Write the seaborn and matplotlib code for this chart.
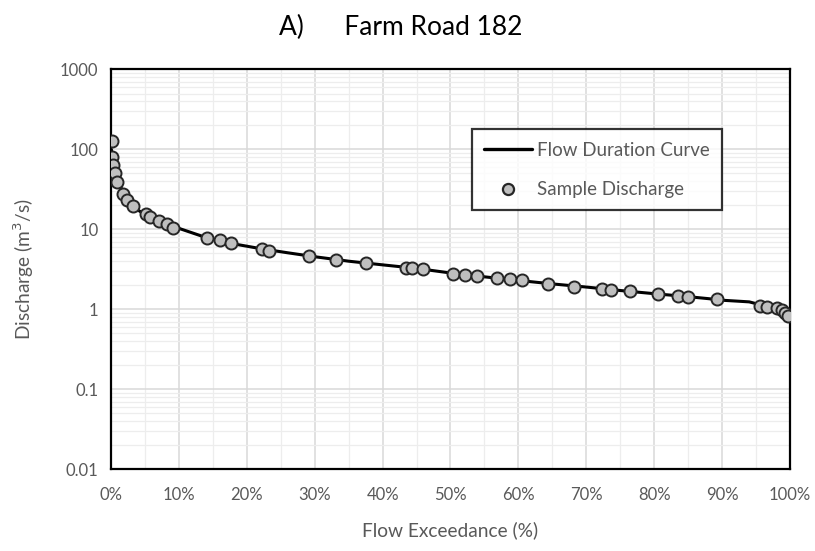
import matplotlib
matplotlib.use("Agg")
import numpy as np
import pandas as pd
import matplotlib.pyplot as plt
from matplotlib.lines import Line2D
from matplotlib.ticker import PercentFormatter, MultipleLocator, LogLocator, FuncFormatter, NullFormatter
import seaborn as sns

# flow duration curve (exceedance %, discharge m3/s)
curve_exceed = [0.05, 0.3, 0.5, 0.8, 1.2, 1.8, 2.5, 3.5, 5, 7, 10, 14, 18, 22, 26, 30, 35, 40,
                45, 50, 55, 60, 65, 70, 75, 80, 85, 88, 90, 92, 94, 96, 98, 99, 100]
curve_q = [100, 75, 60, 48, 38, 28.5, 23, 18.5, 15.3, 12.5, 10.3, 7.9, 6.6, 5.75, 5.1, 4.55, 4.0, 3.6,
           3.25, 2.85, 2.55, 2.3, 2.08, 1.9, 1.72, 1.57, 1.44, 1.36, 1.3, 1.27, 1.24, 1.12, 1.02, 0.95, 0.82]

# sample discharges
sample_exceed = [0.1, 0.1, 0.35, 0.6, 0.95, 1.8, 2.3, 3.2, 5.1, 5.8, 7.1, 8.3, 9.2, 14.1, 16.1, 17.6,
                 22.3, 23.3, 29.2, 33.2, 37.5, 43.4, 44.4, 45.9, 50.4, 52.2, 53.9, 56.8, 58.7, 60.6,
                 64.3, 68.2, 72.3, 73.6, 76.4, 80.5, 83.5, 85.0, 89.2, 95.6, 96.6, 98.1, 98.8, 99.2, 99.7]
sample_q = [128, 80.8, 63.7, 50, 39.4, 27.6, 23.3, 19.7, 15.5, 14.1, 12.7, 11.6, 10.5, 7.7, 7.35, 6.7,
            5.67, 5.4, 4.6, 4.17, 3.76, 3.31, 3.29, 3.19, 2.79, 2.71, 2.61, 2.44, 2.37, 2.30,
            2.09, 1.92, 1.81, 1.74, 1.69, 1.55, 1.48, 1.44, 1.33, 1.11, 1.06, 1.03, 0.98, 0.91, 0.82]

sns.set_style("white")
plt.rcParams['font.family'] = ['Lato', 'DejaVu Sans']

curve_df = pd.DataFrame({"exceed": curve_exceed, "q": curve_q})
sample_df = pd.DataFrame({"exceed": sample_exceed, "q": sample_q})

fig = plt.figure(figsize=(8.15, 5.51), dpi=100)
ax = fig.add_axes([0.1362, 0.1483, 0.8331, 0.7257])

sns.lineplot(ax=ax, data=curve_df, x="exceed", y="q", color="black", linewidth=2.2, zorder=3)
sns.scatterplot(ax=ax, data=sample_df, x="exceed", y="q", color="#bfbfbf", edgecolor="#262626",
                linewidth=1.4, s=75, zorder=4)

ax.set_yscale("log")
ax.set_xlim(0, 100)
ax.set_ylim(0.01, 1000)
ax.xaxis.set_major_locator(MultipleLocator(10))
ax.xaxis.set_minor_locator(MultipleLocator(5))
ax.xaxis.set_major_formatter(PercentFormatter(100, decimals=0))
ax.yaxis.set_major_locator(LogLocator(base=10))
ax.yaxis.set_minor_locator(LogLocator(base=10, subs=np.arange(2, 10)))
ax.yaxis.set_major_formatter(FuncFormatter(lambda v, p: f"{v:g}"))
ax.yaxis.set_minor_formatter(NullFormatter())

ax.grid(which="major", color="#d9d9d9", linewidth=1.1)
ax.grid(which="minor", color="#ededed", linewidth=0.9)
ax.set_axisbelow(True)
ax.tick_params(which="both", length=0, labelsize=12, labelcolor="#595959")
ax.tick_params(axis="x", pad=13)
ax.tick_params(axis="y", pad=9)
for s in ax.spines.values():
    s.set_color("black")
    s.set_linewidth(1.6)

ax.set_xlabel("Flow Exceedance (%)", fontsize=13.8, color="#595959", labelpad=13)
ax.set_ylabel("Discharge (m$^3$/s)", fontsize=13.8, color="#595959", labelpad=17)

custom = [Line2D([], [], color="black", linewidth=2.4),
          Line2D([], [], marker='o', color="#bfbfbf", markeredgecolor="#262626", markeredgewidth=1.6,
                 markersize=8, linestyle='None')]
leg = ax.legend(handles=custom, labels=["Flow Duration Curve", "Sample Discharge"],
                loc="upper left", bbox_to_anchor=(0.531, 0.85), fontsize=13.5, handlelength=2.6,
                frameon=True, fancybox=False, borderpad=0.65, labelspacing=1.2, handletextpad=0.25,
                borderaxespad=0)
leg.get_frame().set_edgecolor("black")
leg.get_frame().set_linewidth(1.6)
for t in leg.get_texts():
    t.set_color("#595959")

fig.text(0.492, 0.951, "A)      Farm Road 182", ha="center", va="center", fontsize=19, color="black")

fig.savefig("out.png", dpi=100)
